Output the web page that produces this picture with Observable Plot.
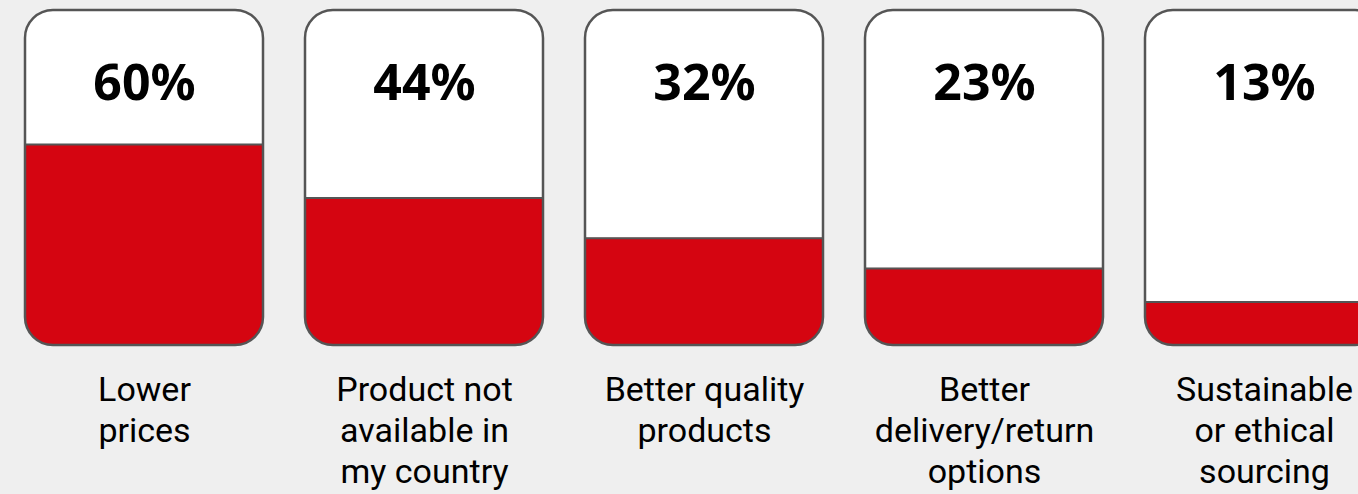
<!DOCTYPE html>
<html><head><meta charset="utf-8">
<script src="https://cdn.jsdelivr.net/npm/d3@7"></script>
<script src="https://cdn.jsdelivr.net/npm/@observablehq/plot@0.6"></script>
<style>
html,body{margin:0;padding:0;background:#efefef;overflow:hidden;}
#chart svg{overflow:hidden;display:block;}
</style></head><body><div id="chart"></div>
<script>
const categories = ["Lower prices", "Product not available in my country", "Better quality products", "Better delivery/return options", "Sustainable or ethical sourcing"];
const labels = ["Lower\nprices", "Product not\navailable in\nmy country", "Better quality\nproducts", "Better\ndelivery/return\noptions", "Sustainable\nor ethical\nsourcing"];
const values = [60, 44, 32, 23, 13];
const valueLabels = ["60%", "44%", "32%", "23%", "13%"];
const fullScale = 100;

const data = categories.map((c, i) => ({category: c, label: labels[i], value: values[i], text: valueLabels[i]}));
const W = 1358, H = 494;
const yTop = 10, yBottom = 345;
const radius = 28;
const r = radius * fullScale / (yBottom - yTop); // corner radius in data units

const chart = Plot.plot({
  width: W, height: H,
  marginTop: yTop, marginBottom: H - yBottom, marginLeft: 0, marginRight: 0,
  style: {background: "#efefef", fontFamily: "'Noto Sans', sans-serif", color: "#000", overflow: "hidden"},
  x: {domain: categories, range: [25, 25 + 280 * 4.85], paddingInner: 0.15, paddingOuter: 0, axis: null},
  y: {domain: [0, fullScale], axis: null},
  marks: [
    Plot.barY(data, {x: "category", y1: 0, y2: fullScale, fill: "#d50511", rx: radius}),
    Plot.barY(data, {x: "category", y1: fullScale - 2 * r, y2: fullScale, fill: "white", rx: radius}),
    Plot.barY(data, {x: "category", y1: "value", y2: fullScale - r, fill: "white"}),
    Plot.tickY(data, {x: "category", y: "value", stroke: "#555", strokeWidth: 2}),
    Plot.barY(data, {x: "category", y1: 0, y2: fullScale, fill: "none", stroke: "#555", strokeWidth: 2.5, rx: radius}),
    Plot.text(data, {x: "category", y: fullScale, text: "text", lineAnchor: "top", dy: 54, fontSize: 50, fontWeight: "bold", fill: "#000"}),
    Plot.text(data, {x: "category", y: 0, text: "label", lineAnchor: "top", dy: 27, fontSize: 34, lineHeight: 1.2, fill: "#000", fontFamily: "Roboto, sans-serif"})
  ]
});
document.getElementById("chart").appendChild(chart);
</script>
</body></html>
